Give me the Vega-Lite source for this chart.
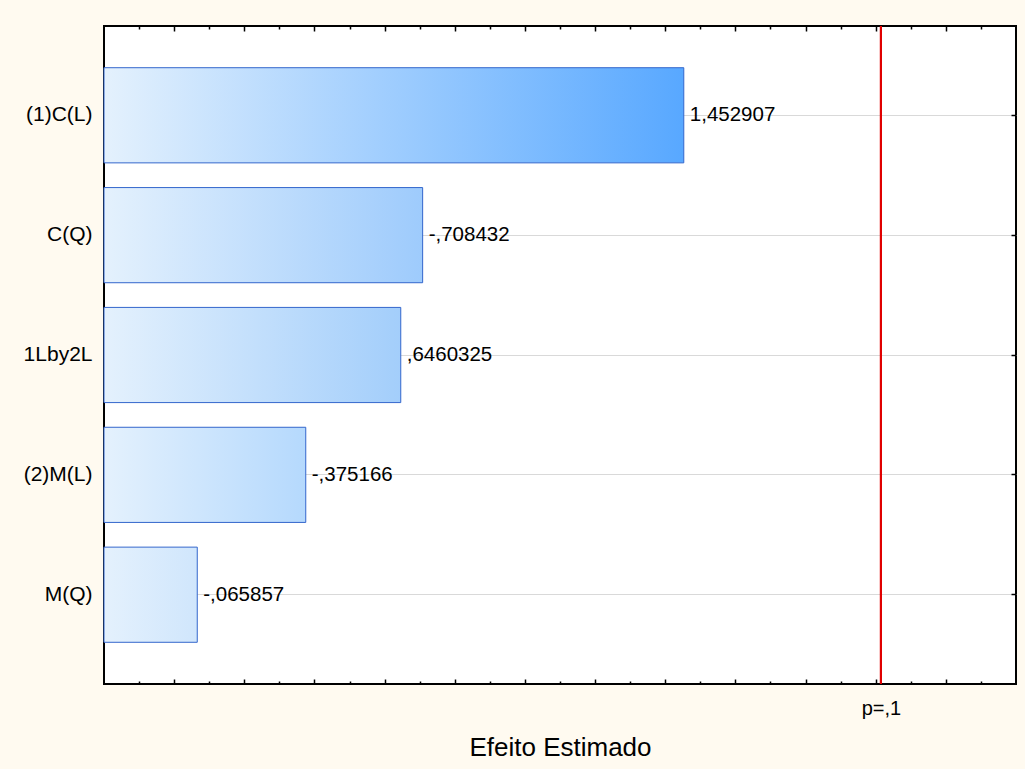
{
  "$schema": "https://vega.github.io/schema/vega-lite/v6.json",
  "width": 912,
  "height": 658,
  "autosize": {"type": "none"},
  "padding": {"left": 104, "top": 26, "right": 9, "bottom": 85},
  "background": "#FFFAF0",
  "config": {
    "view": {"stroke": "black", "strokeWidth": 2, "fill": "white"},
    "font": "Liberation Sans",
    "axis": {"labelFont": "Liberation Sans", "titleFont": "Liberation Sans", "labelColor": "black", "titleColor": "black", "tickColor": "black", "tickWidth": 1.5}
  },
  "data": {
    "values": [
      {"term": "(1)C(L)", "magnitude": 1.452907, "label": "1,452907"},
      {"term": "C(Q)", "magnitude": 0.708432, "label": "-,708432"},
      {"term": "1Lby2L", "magnitude": 0.6460325, "label": ",6460325"},
      {"term": "(2)M(L)", "magnitude": 0.375166, "label": "-,375166"},
      {"term": "M(Q)", "magnitude": 0.065857, "label": "-,065857"}
    ]
  },
  "resolve": {"axis": {"x": "independent", "y": "independent"}},
  "layer": [
    {
      "mark": {"type": "bar", "stroke": "#3366CC", "strokeWidth": 1},
      "encoding": {
        "y": {
          "field": "term", "type": "nominal", "sort": null,
          "scale": {"paddingInner": 0.206, "paddingOuter": 0.348},
          "axis": {
            "title": null, "labelFontSize": 21, "labelPadding": 17, "tickSize": -5,
            "grid": true, "gridColor": "#D9D9D9", "domain": false
          }
        },
        "x": {
          "field": "magnitude", "type": "quantitative",
          "scale": {"domain": [-0.2, 2.4], "nice": false, "zero": false},
          "axis": {
            "title": "Efeito Estimado", "titleFontSize": 26, "titleFontWeight": "normal", "titlePadding": 14,
            "values": [-0.1, 0, 0.1, 0.2, 0.3, 0.4, 0.5, 0.6, 0.7, 0.8, 0.9, 1.0, 1.1, 1.2, 1.3, 1.4, 1.5, 1.6, 1.7, 1.8, 1.9, 2.0, 2.015, 2.1, 2.2, 2.3],
            "labelExpr": "datum.value == 2.015 ? 'p=,1' : ''",
            "labelFontSize": 20, "labelPadding": 19, "labelOverlap": false, "labelFlush": false,
            "tickSize": {"condition": {"test": "round(datum.value * 10) % 2 == 0", "value": -5}, "value": -3},
            "tickColor": {"condition": {"test": "datum.value == 2.015", "value": "transparent"}, "value": "black"},
            "grid": false, "domain": false
          }
        },
        "x2": {"datum": -0.2},
        "fill": {
          "condition": [
            {"test": "datum.term == '(1)C(L)'", "value": {"gradient": "linear", "x1": 0, "x2": 1, "y1": 0, "y2": 0, "stops": [{"offset": 0, "color": "#E4F1FD"}, {"offset": 1, "color": "#58A8FF"}]}},
            {"test": "datum.term == 'C(Q)'", "value": {"gradient": "linear", "x1": 0, "x2": 1, "y1": 0, "y2": 0, "stops": [{"offset": 0, "color": "#E4F1FD"}, {"offset": 1, "color": "#9ECBFC"}]}},
            {"test": "datum.term == '1Lby2L'", "value": {"gradient": "linear", "x1": 0, "x2": 1, "y1": 0, "y2": 0, "stops": [{"offset": 0, "color": "#E4F1FD"}, {"offset": 1, "color": "#A3CEFB"}]}},
            {"test": "datum.term == '(2)M(L)'", "value": {"gradient": "linear", "x1": 0, "x2": 1, "y1": 0, "y2": 0, "stops": [{"offset": 0, "color": "#E4F1FD"}, {"offset": 1, "color": "#B5D9FD"}]}}
          ],
          "value": {"gradient": "linear", "x1": 0, "x2": 1, "y1": 0, "y2": 0, "stops": [{"offset": 0, "color": "#E4F1FD"}, {"offset": 1, "color": "#D0E6FC"}]}
        }
      }
    },
    {
      "mark": {"type": "text", "align": "left", "baseline": "middle", "dx": 6, "fontSize": 20.5, "color": "black", "font": "Liberation Sans"},
      "encoding": {
        "y": {
          "field": "term", "type": "nominal", "sort": null,
          "axis": {"orient": "right", "title": null, "labels": false, "tickSize": -5, "grid": false, "domain": false}
        },
        "x": {
          "field": "magnitude", "type": "quantitative",
          "axis": {
            "orient": "top", "title": null, "labels": false,
            "values": [-0.1, 0, 0.1, 0.2, 0.3, 0.4, 0.5, 0.6, 0.7, 0.8, 0.9, 1.0, 1.1, 1.2, 1.3, 1.4, 1.5, 1.6, 1.7, 1.8, 1.9, 2.0, 2.1, 2.2, 2.3],
            "tickSize": {"condition": {"test": "round(datum.value * 10) % 2 == 0", "value": -5}, "value": -3},
            "grid": false, "domain": false
          }
        },
        "text": {"field": "label", "type": "nominal"}
      }
    },
    {
      "mark": {"type": "rule", "color": "#E00000", "strokeWidth": 2},
      "encoding": {
        "x": {"datum": 2.015, "type": "quantitative", "axis": null}
      }
    }
  ]
}
